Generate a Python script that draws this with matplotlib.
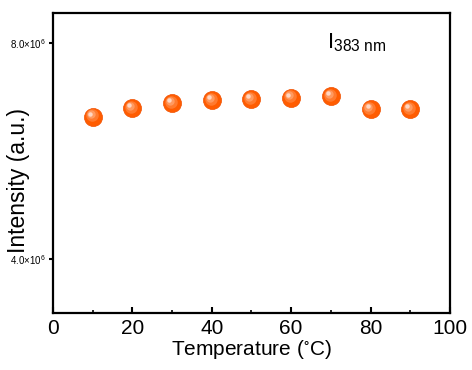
import matplotlib
matplotlib.use("Agg")
import matplotlib.pyplot as plt
import matplotlib.transforms as mtransforms
from matplotlib.ticker import FuncFormatter, MultipleLocator

plt.rcParams["font.family"] = ["Liberation Sans", "DejaVu Sans"]
plt.rcParams["mathtext.fontset"] = "custom"
plt.rcParams["mathtext.rm"] = "Liberation Sans"
plt.rcParams["mathtext.it"] = "Liberation Sans"

temperature = [10, 20, 30, 40, 50, 60, 70, 80, 90]
intensity = [6.64e6, 6.79e6, 6.895e6, 6.945e6, 6.965e6, 6.99e6, 7.02e6, 6.78e6, 6.78e6]
ytick_values = [4.0e6, 8.0e6]


def sci_fmt(v, pos):
    return r"%.1f$\times$10$^{6}$" % (v / 1e6)


fig = plt.figure(figsize=(4.72, 3.70), dpi=100)
ax = fig.add_axes([0.1123, 0.154, 0.841, 0.811])

# glossy spheres: base colour + offset lighter layers
ax.plot(temperature, intensity, ls="none", marker="o", ms=13, mfc="#ff5c00",
        mec="#f05000", mew=0.5, zorder=3)
layers = [(9, "#ff7a2e", 1.2), (6, "#ff9a60", 2.2), (3.2, "#ffd6c2", 3.0)]
for ms, col, off in layers:
    tr = ax.transData + mtransforms.ScaledTranslation(-off / 100, off / 100,
                                                     fig.dpi_scale_trans)
    ax.plot(temperature, intensity, ls="none", marker="o", ms=ms, mfc=col,
            mec="none", zorder=4, transform=tr)

ax.set_xlim(0, 100)
ax.set_ylim(3.0e6, 8.56e6)
ax.xaxis.set_major_locator(MultipleLocator(20))
ax.xaxis.set_minor_locator(MultipleLocator(10))
ax.set_yticks(ytick_values)
ax.yaxis.set_major_formatter(FuncFormatter(sci_fmt))

ax.tick_params(axis="x", which="major", direction="in", length=4, width=1.5,
               labelsize=15, pad=4)
ax.tick_params(axis="x", which="minor", direction="in", length=2.5, width=1.2)
ax.tick_params(axis="y", which="major", direction="out", length=3, width=1.5,
               labelsize=7, pad=2)
for sp in ax.spines.values():
    sp.set_linewidth(1.6)

ax.set_xlabel(r"Temperature ($\mathregular{^{\circ}}$C)", fontsize=15, labelpad=0)
ax.set_ylabel("Intensity (a.u.)", fontsize=16.5)
ax.yaxis.set_label_coords(-0.058, 0.443)

ax.text(0.69, 0.90, r"I$\mathregular{_{383\ nm}}$", transform=ax.transAxes,
        fontsize=16, ha="left", va="center")

fig.savefig("out.png", dpi=100)
